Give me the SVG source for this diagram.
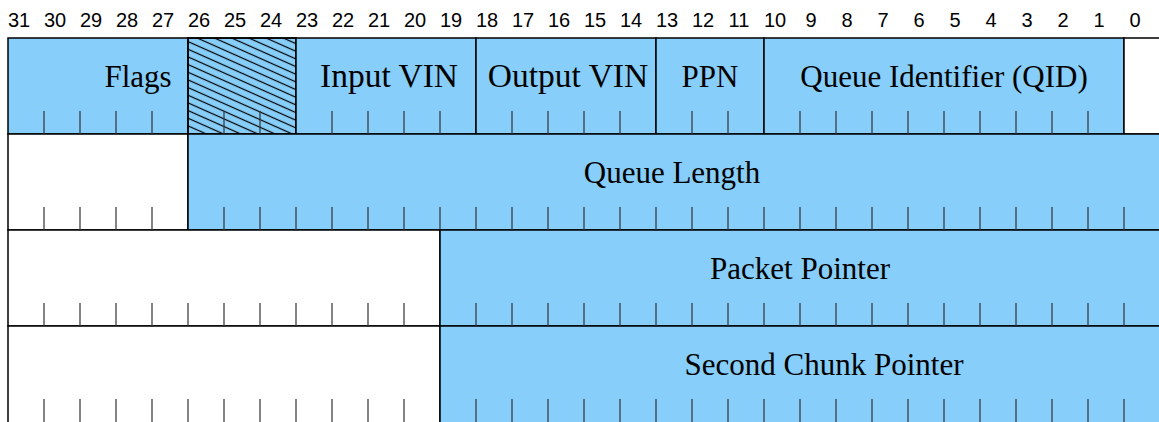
<svg xmlns="http://www.w3.org/2000/svg" width="1159" height="422" viewBox="0 0 1159 422">
<style>
.f{fill:#87cefa;stroke:#000;stroke-width:1.5}
.u{fill:#fff;stroke:#000;stroke-width:1.5}
.t{stroke:#333;stroke-width:1.2;fill:none}
.lbl{font-family:"Liberation Serif","Times New Roman",serif;font-size:31px;fill:#000;text-anchor:middle}
.big{font-size:33.5px}
.bn{font-family:"Liberation Sans",Arial,sans-serif;font-size:20px;fill:#000;text-anchor:middle}
</style>
<defs>
<pattern id="hatch" patternUnits="userSpaceOnUse" width="20" height="7" patternTransform="rotate(24)">
<line x1="0" y1="3.5" x2="20" y2="3.5" stroke="#000" stroke-width="1.2"/>
</pattern>
</defs>
<rect width="1159" height="422" fill="#fff"/>
<g id="bit-numbers" class="bn">
<text x="19" y="27">31</text><text x="55" y="27">30</text><text x="91" y="27">29</text><text x="127" y="27">28</text>
<text x="163" y="27">27</text><text x="199" y="27">26</text><text x="235" y="27">25</text><text x="271" y="27">24</text>
<text x="307" y="27">23</text><text x="343" y="27">22</text><text x="379" y="27">21</text><text x="415" y="27">20</text>
<text x="451" y="27">19</text><text x="487" y="27">18</text><text x="523" y="27">17</text><text x="559" y="27">16</text>
<text x="595" y="27">15</text><text x="631" y="27">14</text><text x="667" y="27">13</text><text x="703" y="27">12</text>
<text x="739" y="27">11</text><text x="775" y="27">10</text><text x="811" y="27">9</text><text x="847" y="27">8</text>
<text x="883" y="27">7</text><text x="919" y="27">6</text><text x="955" y="27">5</text><text x="991" y="27">4</text>
<text x="1027" y="27">3</text><text x="1063" y="27">2</text><text x="1099" y="27">1</text><text x="1135" y="27">0</text>
</g>
<g id="flags"><rect class="f" x="8" y="38" width="180" height="96"/><text class="lbl" x="138" y="87">Flags</text></g>
<g id="reserved"><rect class="f" x="188" y="38" width="108" height="96"/><rect x="188" y="38" width="108" height="96" fill="url(#hatch)" stroke="#000" stroke-width="1.5"/></g>
<g id="input-vin"><rect class="f" x="296" y="38" width="180" height="96"/><text class="lbl big" x="389" y="87">Input VIN</text></g>
<g id="output-vin"><rect class="f" x="476" y="38" width="180" height="96"/><text class="lbl big" x="568" y="87">Output VIN</text></g>
<g id="ppn"><rect class="f" x="656" y="38" width="108" height="96"/><text class="lbl" x="710" y="87">PPN</text></g>
<g id="qid"><rect class="f" x="764" y="38" width="360" height="96"/><text class="lbl" x="944" y="87">Queue Identifier (QID)</text></g>
<g id="bit0-unused"><rect class="u" x="1124" y="38" width="40" height="96"/></g>
<g id="row2-unused"><rect class="u" x="8" y="134" width="180" height="96"/></g>
<g id="queue-length"><rect class="f" x="188" y="134" width="976" height="96"/><text class="lbl" x="672" y="183">Queue Length</text></g>
<g id="row3-unused"><rect class="u" x="8" y="230" width="432" height="96"/></g>
<g id="packet-pointer"><rect class="f" x="440" y="230" width="724" height="96"/><text class="lbl" x="800" y="279">Packet Pointer</text></g>
<g id="row4-unused"><rect class="u" x="8" y="326" width="432" height="100"/></g>
<g id="second-chunk-pointer"><rect class="f" x="440" y="326" width="724" height="100"/><text class="lbl" x="824" y="375">Second Chunk Pointer</text></g>
<g id="ticks" class="t">
<path d="M44 111V134M80 111V134M116 111V134M152 111V134M224 111V134M260 111V134M332 111V134M368 111V134M404 111V134M440 111V134M512 111V134M548 111V134M584 111V134M620 111V134M692 111V134M728 111V134M800 111V134M836 111V134M872 111V134M908 111V134M944 111V134M980 111V134M1016 111V134M1052 111V134M1088 111V134"/>
<path d="M44 207V230M80 207V230M116 207V230M152 207V230M224 207V230M260 207V230M296 207V230M332 207V230M368 207V230M404 207V230M440 207V230M476 207V230M512 207V230M548 207V230M584 207V230M620 207V230M656 207V230M692 207V230M728 207V230M764 207V230M800 207V230M836 207V230M872 207V230M908 207V230M944 207V230M980 207V230M1016 207V230M1052 207V230M1088 207V230M1124 207V230"/>
<path d="M44 303V326M80 303V326M116 303V326M152 303V326M188 303V326M224 303V326M260 303V326M296 303V326M332 303V326M368 303V326M404 303V326M476 303V326M512 303V326M548 303V326M584 303V326M620 303V326M656 303V326M692 303V326M728 303V326M764 303V326M800 303V326M836 303V326M872 303V326M908 303V326M944 303V326M980 303V326M1016 303V326M1052 303V326M1088 303V326M1124 303V326"/>
<path d="M44 399V422M80 399V422M116 399V422M152 399V422M188 399V422M224 399V422M260 399V422M296 399V422M332 399V422M368 399V422M404 399V422M476 399V422M512 399V422M548 399V422M584 399V422M620 399V422M656 399V422M692 399V422M728 399V422M764 399V422M800 399V422M836 399V422M872 399V422M908 399V422M944 399V422M980 399V422M1016 399V422M1052 399V422M1088 399V422M1124 399V422"/>
</g>
</svg>
